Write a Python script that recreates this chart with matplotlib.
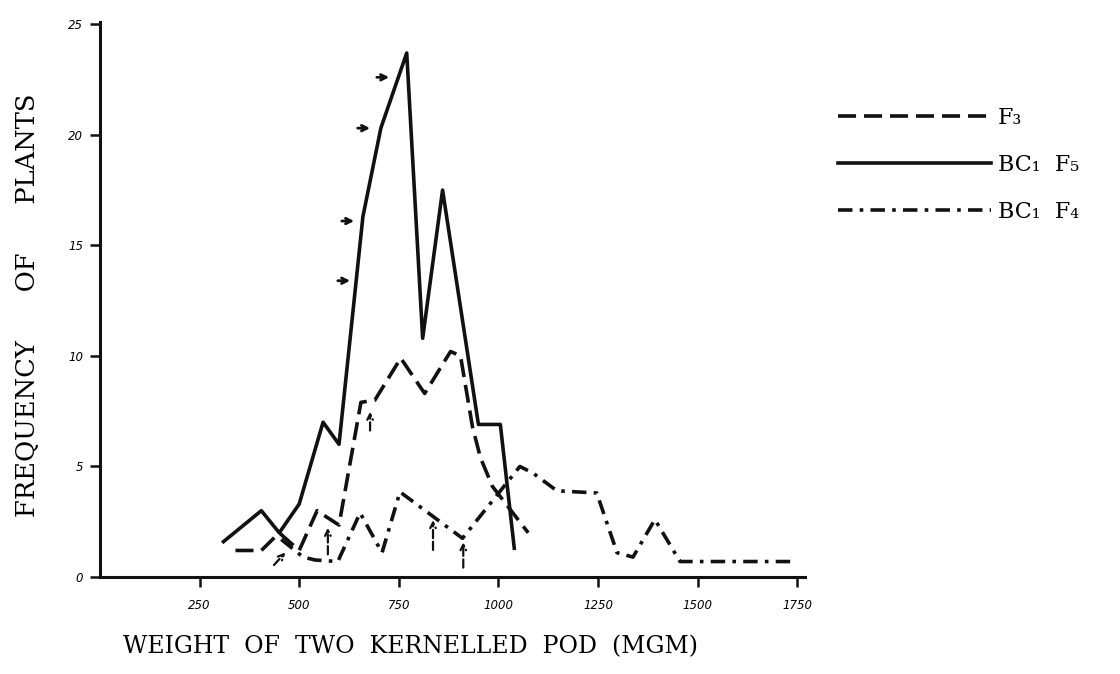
import matplotlib
matplotlib.use('Agg')
import matplotlib.pyplot as plt

# frequency polygons
f3_x = [340, 405, 450, 500, 545, 570, 600, 655, 690, 755, 815, 880, 905, 935, 955, 985, 1075]
f3_y = [1.2, 1.2, 2.0, 1.2, 3.0, 2.7, 2.35, 7.9, 8.0, 9.9, 8.3, 10.2, 10.0, 6.8, 5.4, 4.1, 2.0]

bc1f5_x = [310, 405, 450, 500, 560, 600, 660, 705, 770, 810, 860, 950, 1005, 1040]
bc1f5_y = [1.6, 3.0, 2.0, 3.3, 7.0, 6.0, 16.3, 20.3, 23.7, 10.8, 17.5, 6.9, 6.9, 1.3]

bc1f4_x = [455, 510, 540, 597, 653, 708, 753, 910, 1054, 1087, 1147, 1247, 1298, 1338, 1393, 1456, 1750]
bc1f4_y = [1.7, 0.9, 0.77, 0.7, 2.9, 1.1, 3.85, 1.75, 5.0, 4.7, 3.9, 3.8, 1.1, 0.9, 2.6, 0.7, 0.7]

# little hand drawn arrows on the original
harrow_x = [635, 645, 685, 733]
harrow_y = [13.4, 16.1, 20.3, 22.6]
varrow_x = [572, 678, 836, 912]
varrow_y0 = [0.9, 6.5, 1.1, 0.3]
varrow_y1 = [2.35, 7.6, 2.7, 1.7]

xticks = [250, 500, 750, 1000, 1250, 1500, 1750]
yticks = [0, 5, 10, 15, 20, 25]

serif = ['DejaVu Serif']

fig = plt.figure(figsize=(11.2, 6.74), dpi=100)
ax = fig.add_axes([0.0893, 0.1439, 0.6295, 0.8234])

ink = '#111111'
ax.plot(f3_x, f3_y, color=ink, lw=2.6, ls=(0, (5, 2.2)), label='F\u2083')
ax.plot(bc1f5_x, bc1f5_y, color=ink, lw=2.6, ls='-', label='BC\u2081  F\u2085')
ax.plot(bc1f4_x, bc1f4_y, color=ink, lw=2.6, ls=(0, (4, 2, 1, 2)), label='BC\u2081  F\u2084')

for x, y in zip(harrow_x, harrow_y):
    ax.annotate('', xy=(x, y), xytext=(x - 45, y),
                arrowprops=dict(arrowstyle='->', lw=2, color=ink))
for x, y0, y1 in zip(varrow_x, varrow_y0, varrow_y1):
    ax.annotate('', xy=(x, y1), xytext=(x, y0),
                arrowprops=dict(arrowstyle='->', lw=1.6, color=ink, ls='--'))
ax.annotate('', xy=(470, 1.2), xytext=(432, 0.45),
            arrowprops=dict(arrowstyle='->', lw=1.6, color=ink, ls='--'))

ax.set_xlim(0, 1770)
ax.set_ylim(0, 25.1)
for s in ['top', 'right']:
    ax.spines[s].set_visible(False)
for s in ['left', 'bottom']:
    ax.spines[s].set_linewidth(2.2)
    ax.spines[s].set_color(ink)

ax.set_xticks(xticks)
ax.set_xticklabels([str(t) for t in xticks], fontstyle='italic', fontsize=8.5)
ax.set_yticks(yticks)
ax.set_yticklabels([str(t) for t in yticks], fontstyle='italic', fontsize=8.5)
ax.tick_params(axis='both', direction='out', length=7, width=1.8, color=ink)
ax.tick_params(axis='x', pad=9)
ax.tick_params(axis='y', pad=5)

ax.set_ylabel('FREQUENCY      OF      PLANTS', family=serif, fontsize=18.5)
ax.yaxis.set_label_coords(-0.085, 0.49)
ax.set_xlabel('WEIGHT  OF  TWO  KERNELLED  POD  (MGM)', family=serif, fontsize=17)
ax.xaxis.set_label_coords(0.44, -0.105)

ax.legend(loc='upper left', bbox_to_anchor=(838 / 1120, 1 - 107 / 674),
          bbox_transform=fig.transFigure, frameon=False, borderpad=0,
          borderaxespad=0, handlelength=6.9, handletextpad=0.3,
          labelspacing=1.12, prop={'family': serif, 'size': 16})

fig.savefig('out.png', dpi=100)
